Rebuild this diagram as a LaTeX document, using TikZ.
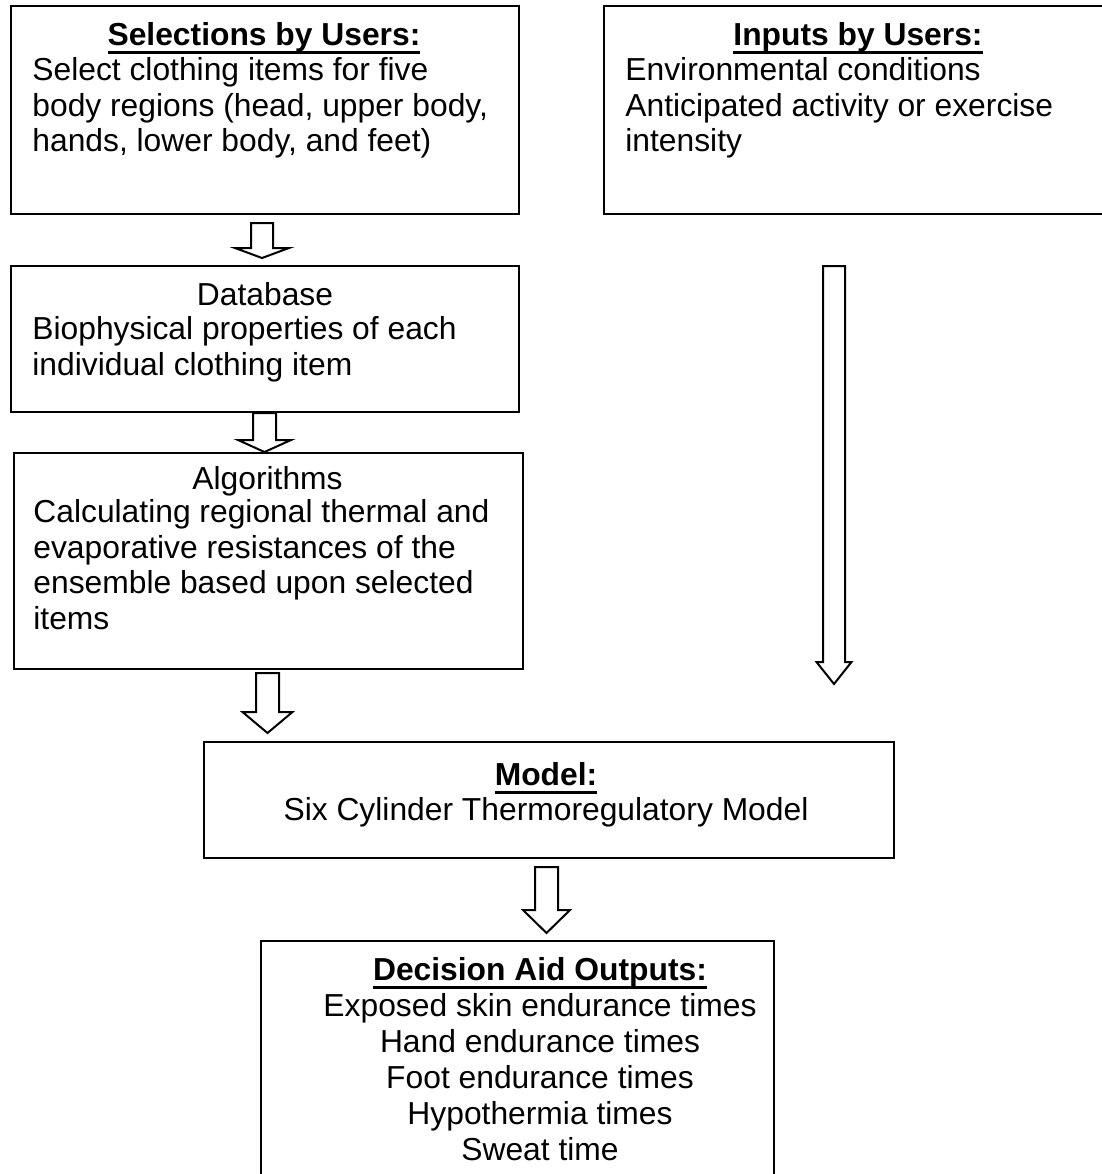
\documentclass[tikz,border=0pt]{standalone}
\usepackage{fontspec}
\setmainfont{Liberation Sans}
\usetikzlibrary{positioning}
\tikzset{
  box/.style={draw=black, line width=1pt, inner sep=0pt, anchor=north west},
  txt/.style={inner sep=0pt, font=\fontsize{15.9}{17.75}\selectfont},
  lefttxt/.style={txt, anchor=base west, align=left},
  midtxt/.style={txt, anchor=base, align=center},
  blockline/.style={draw=black, fill=white, line width=1pt},
  pics/blockdown/.style n args={4}{code={
    \draw[blockline] (-#3,0) -- (#3,0) -- (#3,#1) -- (#4,#1) -- (0,#2) -- (-#4,#1) -- (-#3,#1) -- cycle;
  }},
}
\newsavebox{\headbox}
\newcommand{\heading}[1]{\sbox{\headbox}{\bfseries #1}%
  \rlap{\rule[-4.3pt]{\wd\headbox}{1.1pt}}\usebox{\headbox}}

\begin{document}
\begin{tikzpicture}[x=0.5pt, y=-0.5pt]
\clip (0,0) rectangle (1102,1174);
% boxes
\node[box, minimum width=254pt, minimum height=104pt] (sel) at (10,5) {};
\node[box, minimum width=255pt, minimum height=104pt] (inp) at (603,5) {};
\node[box, minimum width=254pt, minimum height=73pt] (dbase) at (10,265) {};
\node[box, minimum width=254.5pt, minimum height=108pt] (algo) at (13,452) {};
\node[box, minimum width=345pt, minimum height=58pt] (model) at (203,741) {};
\node[box, minimum width=256.5pt, minimum height=125pt] (outp) at (260,940) {};
% texts (multi-line nodes sit on their last baseline)
\node[midtxt] (seltitle) at (264,45) {\heading{Selections by Users:}};
\node[lefttxt] (seltext) at (32,151.5) {Select clothing items for five\\body regions (head, upper body,\\hands, lower body, and feet)};
\node[midtxt] (inptitle) at (858,45) {\heading{Inputs by Users:}};
\node[lefttxt] (inptext) at (625,151.5) {Environmental conditions\\Anticipated activity or exercise\\intensity};
\node[midtxt] (dbtitle) at (265,305) {Database};
\node[lefttxt] (dbtext) at (32,375) {Biophysical properties of each\\individual clothing item};
\node[midtxt] (algotitle) at (267.5,489) {Algorithms};
\node[lefttxt] (algotext) at (33,629) {Calculating regional thermal and\\evaporative resistances of the\\ensemble based upon selected\\items};
\node[midtxt] (modeltitle) at (546,785) {\heading{Model:}};
\node[midtxt] (modeltext) at (546,820) {Six Cylinder Thermoregulatory Model};
\node[midtxt] (outtitle) at (540,980) {\heading{Decision Aid Outputs:}};
\node[midtxt, font=\fontsize{15.9}{18}\selectfont] (outtext) at (540,1160) {Exposed skin endurance times\\Hand endurance times\\Foot endurance times\\Hypothermia times\\Sweat time};
% hollow arrows
\pic at (262,223) {blockdown={25}{35}{11}{27}};
\pic at (264.5,413) {blockdown={27}{39}{11.5}{26.5}};
\pic at (267.5,673) {blockdown={39}{60}{11.5}{25}};
\pic at (834,266) {blockdown={396}{418}{11}{17.5}};
\pic at (546.5,867) {blockdown={43}{66}{11.5}{23.5}};
\end{tikzpicture}
\end{document}
